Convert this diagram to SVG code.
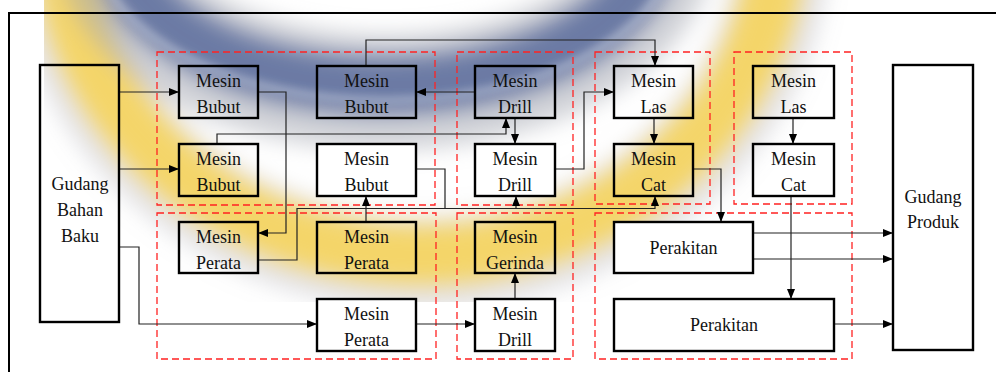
<svg xmlns="http://www.w3.org/2000/svg" width="996" height="372" viewBox="0 0 996 372">
  <defs>
    <style>
      .box { fill: none; stroke: #000; stroke-width: 2.4; }
      .box.solid { fill: #fff; }
      .grp { fill: none; stroke: #f22; stroke-width: 1.3; stroke-dasharray: 7 4; }
      .lbl { font-family: "Liberation Serif", "Times New Roman", serif; font-size: 18px; fill: #111; text-anchor: middle; }
      .wire { fill: none; stroke: #222; stroke-width: 1.2; marker-end: url(#tip); }
      .plain { fill: none; stroke: #222; stroke-width: 1.2; }
    </style>
    <marker id="tip" viewBox="0 0 10 8" refX="10" refY="4" markerWidth="10" markerHeight="8" markerUnits="userSpaceOnUse" orient="auto">
      <path d="M0,0 L10,4 L0,8 z" fill="#000"/>
    </marker>
    <clipPath id="logoClip">
      <rect x="44" y="0" width="820" height="302"/>
    </clipPath>
    <filter id="soft" x="-20%" y="-20%" width="140%" height="140%">
      <feGaussianBlur stdDeviation="11"/>
    </filter>
    <filter id="softer" x="-20%" y="-20%" width="140%" height="140%">
      <feGaussianBlur stdDeviation="4"/>
    </filter>
  </defs>

  <rect width="996" height="372" fill="#fff"/>

  <!-- faded logo backdrop -->
  <g id="backdrop" clip-path="url(#logoClip)">
    <g filter="url(#soft)">
      <ellipse cx="420" cy="-60" rx="362" ry="322" fill="none" stroke="#9a9ca4" stroke-width="95" opacity="0.3"/>
      <ellipse cx="420" cy="-60" rx="356" ry="315" fill="none" stroke="#f4d569" stroke-width="60"/>
      <ellipse cx="385" cy="-60" rx="272" ry="152" fill="none" stroke="#a2a5b0" stroke-width="115" opacity="0.5"/>
      <ellipse cx="385" cy="-60" rx="265" ry="145" fill="none" stroke="#6c7aa4" stroke-width="58"/>
    </g>
    <ellipse cx="385" cy="-60" rx="290" ry="160" fill="none" stroke="#dfe6f4" stroke-width="4" opacity="0.6" filter="url(#softer)"/>
  </g>

  <!-- outer frame -->
  <rect x="9" y="13" width="1010" height="400" fill="none" stroke="#000" stroke-width="2"/>

  <!-- dashed work-cell outlines -->
  <g id="cells">
    <rect class="grp" x="157" y="52" width="278" height="153"/>
    <rect class="grp" x="157" y="213" width="279" height="146"/>
    <rect class="grp" x="457" y="52" width="116" height="153"/>
    <rect class="grp" x="457" y="213" width="116" height="146"/>
    <rect class="grp" x="595" y="52" width="115" height="152"/>
    <rect class="grp" x="734" y="52" width="118" height="152"/>
    <rect class="grp" x="595" y="213" width="257" height="146"/>
  </g>

  <!-- connectors -->
  <g id="connectors">
    <path class="wire" d="M119,92 H179"/>
    <path class="wire" d="M119,169 H179"/>
    <path class="wire" d="M258,92 H286 V233 H258"/>
    <path class="wire" d="M217,144 V134 H506 V118"/>
    <path class="wire" d="M366,66 V40 H655 V66"/>
    <path class="wire" d="M475,92 H416"/>
    <path class="wire" d="M515,118 V144"/>
    <path class="wire" d="M555,169 H584 V92 H614"/>
    <path class="wire" d="M654,118 V144"/>
    <path class="wire" d="M693,169 H721 V222"/>
    <path class="wire" d="M793,118 V144"/>
    <path class="wire" d="M791,196 V299"/>
    <path class="plain" d="M416,169 H445 V208.5"/>
    <path class="wire" d="M258,260 H297 V208.5 H655 V196"/>
    <path class="wire" d="M516,208.5 V196"/>
    <path class="wire" d="M366,222 V196"/>
    <path class="wire" d="M119,247 H139 V324 H317"/>
    <path class="wire" d="M416,324 H475"/>
    <path class="wire" d="M515,299 V273"/>
    <path class="wire" d="M753,233 H893"/>
    <path class="wire" d="M753,259 H893"/>
    <path class="wire" d="M834,324 H893"/>
  </g>

  <!-- nodes -->
  <g id="gudang-bahan-baku">
    <rect class="box" x="40" y="65" width="79" height="257"/>
    <text class="lbl" x="80" y="190">Gudang</text>
    <text class="lbl" x="80" y="216">Bahan</text>
    <text class="lbl" x="80" y="242">Baku</text>
  </g>
  <g id="gudang-produk">
    <rect class="box" x="893" y="65" width="80" height="285"/>
    <text class="lbl" x="933" y="203">Gudang</text>
    <text class="lbl" x="933" y="228">Produk</text>
  </g>

  <g id="bubut-1">
    <rect class="box" x="179" y="66" width="79" height="52"/>
    <text class="lbl" x="218.5" y="87">Mesin</text>
    <text class="lbl" x="218.5" y="113">Bubut</text>
  </g>
  <g id="bubut-2">
    <rect class="box" x="317" y="66" width="99" height="52"/>
    <text class="lbl" x="366.5" y="87">Mesin</text>
    <text class="lbl" x="366.5" y="113">Bubut</text>
  </g>
  <g id="bubut-3">
    <rect class="box" x="179" y="144" width="79" height="52"/>
    <text class="lbl" x="218.5" y="165">Mesin</text>
    <text class="lbl" x="218.5" y="191">Bubut</text>
  </g>
  <g id="bubut-4">
    <rect class="box solid" x="317" y="144" width="99" height="52"/>
    <text class="lbl" x="366.5" y="165">Mesin</text>
    <text class="lbl" x="366.5" y="191">Bubut</text>
  </g>

  <g id="drill-1">
    <rect class="box" x="475" y="66" width="80" height="52"/>
    <text class="lbl" x="515" y="87">Mesin</text>
    <text class="lbl" x="515" y="113">Drill</text>
  </g>
  <g id="drill-2">
    <rect class="box solid" x="475" y="144" width="80" height="52"/>
    <text class="lbl" x="515" y="165">Mesin</text>
    <text class="lbl" x="515" y="191">Drill</text>
  </g>

  <g id="las-1">
    <rect class="box" x="614" y="66" width="79" height="52"/>
    <text class="lbl" x="653.5" y="87">Mesin</text>
    <text class="lbl" x="653.5" y="113">Las</text>
  </g>
  <g id="cat-1">
    <rect class="box" x="614" y="144" width="79" height="52"/>
    <text class="lbl" x="653.5" y="165">Mesin</text>
    <text class="lbl" x="653.5" y="191">Cat</text>
  </g>
  <g id="las-2">
    <rect class="box" x="753" y="66" width="81" height="52"/>
    <text class="lbl" x="793.5" y="87">Mesin</text>
    <text class="lbl" x="793.5" y="113">Las</text>
  </g>
  <g id="cat-2">
    <rect class="box" x="753" y="144" width="81" height="52"/>
    <text class="lbl" x="793.5" y="165">Mesin</text>
    <text class="lbl" x="793.5" y="191">Cat</text>
  </g>

  <g id="perata-1">
    <rect class="box" x="179" y="222" width="79" height="51"/>
    <text class="lbl" x="218.5" y="243">Mesin</text>
    <text class="lbl" x="218.5" y="269">Perata</text>
  </g>
  <g id="perata-2">
    <rect class="box" x="317" y="222" width="99" height="51"/>
    <text class="lbl" x="366.5" y="243">Mesin</text>
    <text class="lbl" x="366.5" y="269">Perata</text>
  </g>
  <g id="perata-3">
    <rect class="box solid" x="317" y="299" width="99" height="52"/>
    <text class="lbl" x="366.5" y="320">Mesin</text>
    <text class="lbl" x="366.5" y="346">Perata</text>
  </g>

  <g id="gerinda">
    <rect class="box" x="475" y="222" width="80" height="51"/>
    <text class="lbl" x="515" y="243">Mesin</text>
    <text class="lbl" x="515" y="269">Gerinda</text>
  </g>
  <g id="drill-3">
    <rect class="box solid" x="475" y="299" width="80" height="52"/>
    <text class="lbl" x="515" y="320">Mesin</text>
    <text class="lbl" x="515" y="346">Drill</text>
  </g>

  <g id="perakitan-1">
    <rect class="box solid" x="614" y="222" width="139" height="51"/>
    <text class="lbl" x="683.5" y="254">Perakitan</text>
  </g>
  <g id="perakitan-2">
    <rect class="box solid" x="614" y="299" width="220" height="52"/>
    <text class="lbl" x="724" y="331">Perakitan</text>
  </g>
</svg>
